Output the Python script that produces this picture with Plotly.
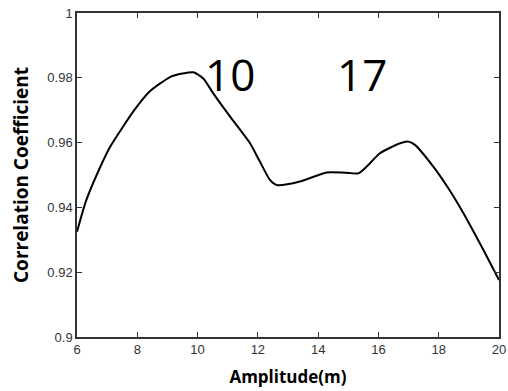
import plotly.graph_objects as go

# Correlation coefficient versus amplitude
amplitude = [6, 6.3, 6.7, 7.1, 7.9, 8.4, 9.1, 9.5, 9.86, 10.19, 10.52, 11.08,
             11.74, 12.07, 12.4, 12.63, 13.4, 14.28, 14.9, 15.33, 15.61, 16.05,
             16.72, 16.99, 17.21, 17.82, 18.32, 18.82, 19.48, 20]
correlation = [0.9325, 0.9420, 0.9510, 0.9587, 0.9700, 0.9757, 0.9803, 0.9813,
               0.9817, 0.9798, 0.9752, 0.9680, 0.9598, 0.9541, 0.9485, 0.9469,
               0.9480, 0.9508, 0.9507, 0.9505, 0.9526, 0.9567, 0.9598, 0.9603,
               0.9593, 0.9526, 0.9459, 0.9382, 0.9269, 0.9176]

x_ticks = [6, 8, 10, 12, 14, 16, 18, 20]
y_ticks = [0.9, 0.92, 0.94, 0.96, 0.98, 1.0]
y_tick_text = ["0.9", "0.92", "0.94", "0.96", "0.98", "1"]

markers = [("10", 11.06, 0.9812), ("17", 15.47, 0.9812)]

fig = go.Figure()
fig.add_trace(go.Scatter(
    x=amplitude, y=correlation, mode="lines",
    line=dict(color="black", width=2, shape="spline", smoothing=0.6),
    showlegend=False, hoverinfo="skip",
))

for txt, xv, yv in markers:
    fig.add_annotation(x=xv, y=yv, text=txt, showarrow=False,
                       xanchor="center", yanchor="middle",
                       font=dict(family="Open Sans", size=44, color="black"))

axis_common = dict(
    showgrid=False, zeroline=False, showline=True, linecolor="#333333",
    linewidth=1.5, mirror="ticks", ticks="inside", ticklen=5,
    tickcolor="#333333", tickwidth=1.2, automargin=False,
    tickfont=dict(family="Liberation Sans", size=13, color="#333333"),
)

fig.update_xaxes(range=[6, 20], tickvals=x_ticks,
                 title=dict(text="Amplitude(m)", standoff=15,
                            font=dict(family="Open Sans", size=17,
                                      color="black", weight="bold")),
                 **axis_common)
fig.update_yaxes(range=[0.9, 1.0], tickvals=y_ticks, ticktext=y_tick_text,
                 title=dict(text="Correlation Coefficient", standoff=14,
                            font=dict(family="Open Sans", size=19,
                                      color="black", weight="bold")),
                 **axis_common)

fig.update_layout(
    width=508, height=391,
    margin=dict(l=77, r=9, t=13, b=54),
    paper_bgcolor="white", plot_bgcolor="white",
)

fig.write_html("out.html")
